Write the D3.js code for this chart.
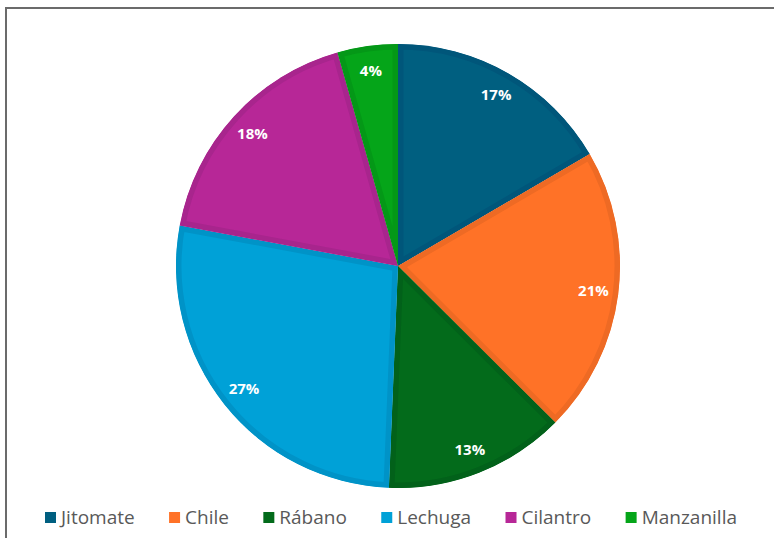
<!doctype html>
<html>
<head>
<meta charset="utf-8">
<script src="https://cdnjs.cloudflare.com/ajax/libs/d3/7.8.5/d3.min.js"></script>
<style>
  body { margin: 0; background: #fff; }
  svg { display: block; }
</style>
</head>
<body>
<div id="chart-area"></div>
<script>
  // Data (slice shares estimated from the angles)
  var categories = ["Jitomate", "Chile", "Rábano", "Lechuga", "Cilantro", "Manzanilla"];
  var shares = [16.6, 20.9, 13.2, 27.3, 17.7, 4.4];
  var fills = ["#005F80", "#FF7227", "#036B1B", "#00A1D7", "#B72797", "#05A519"];
  var borders = ["#00567A", "#EE6A24", "#02611A", "#0093C7", "#A8258D", "#049817"];

  var width = 774, height = 538;
  var cx = 398, cy = 266, radius = 222;

  var svg = d3.select("#chart-area").append("svg")
    .attr("width", width)
    .attr("height", height);

  // chart frame
  svg.append("rect")
    .attr("x", 6).attr("y", 8)
    .attr("width", width + 20).attr("height", height + 20)
    .attr("fill", "none")
    .attr("stroke", "#6b6b6b")
    .attr("stroke-width", 2);

  var data = categories.map(function(c, i) {
    return { name: c, value: shares[i], fill: fills[i], border: borders[i] };
  });

  var pie = d3.pie().sort(null).value(function(d) { return d.value; });
  var arc = d3.arc().innerRadius(0).outerRadius(radius);
  var labelArc = d3.arc().innerRadius(197).outerRadius(197);

  var g = svg.append("g")
    .attr("transform", "translate(" + cx + "," + cy + ")");

  var defs = svg.append("defs");
  var arcs = pie(data);

  arcs.forEach(function(a, i) {
    defs.append("clipPath").attr("id", "clip" + i)
      .append("path").attr("d", arc(a));
  });

  var slices = g.selectAll(".slice").data(arcs).enter().append("g")
    .attr("class", "slice");

  // fill + inner border (stroke clipped to its own slice)
  slices.append("path")
    .attr("d", arc)
    .attr("fill", function(d) { return d.data.fill; })
    .attr("stroke", function(d) { return d.data.border; })
    .attr("stroke-width", 11)
    .attr("stroke-linejoin", "miter")
    .attr("clip-path", function(d, i) { return "url(#clip" + i + ")"; });

  var total = d3.sum(shares);
  g.selectAll(".label").data(arcs).enter().append("text")
    .attr("class", "label")
    .attr("transform", function(d) { return "translate(" + labelArc.centroid(d) + ")"; })
    .attr("text-anchor", "middle")
    .attr("dy", "0.35em")
    .attr("fill", "#ffffff")
    .attr("font-family", "'Open Sans', 'Liberation Sans', sans-serif")
    .attr("font-weight", "bold")
    .attr("font-size", "15px")
    .text(function(d) { return Math.round(d.data.value / total * 100) + "%"; });

  // Legend
  var legend = svg.append("g").attr("class", "legend");
  var items = legend.selectAll(".item").data(data).enter().append("g")
    .attr("class", "item");

  items.append("rect")
    .attr("width", 11).attr("height", 11)
    .attr("y", -12)
    .attr("fill", function(d) { return d.fill; });

  items.append("text")
    .attr("x", 16)
    .attr("y", 0)
    .attr("fill", "#595959")
    .attr("font-family", "'Open Sans', 'Liberation Sans', sans-serif")
    .attr("font-size", "19px")
    .text(function(d) { return d.name; });

  // spread items between x=45 and x=737
  var widths = [];
  items.each(function() {
    widths.push(16 + d3.select(this).select("text").node().getComputedTextLength());
  });
  var gap = (737 - 45 - d3.sum(widths)) / (widths.length - 1);
  var xPos = 45;
  items.each(function(d, i) {
    d3.select(this).attr("transform", "translate(" + xPos + ",524)");
    xPos += widths[i] + gap;
  });
</script>
</body>
</html>
